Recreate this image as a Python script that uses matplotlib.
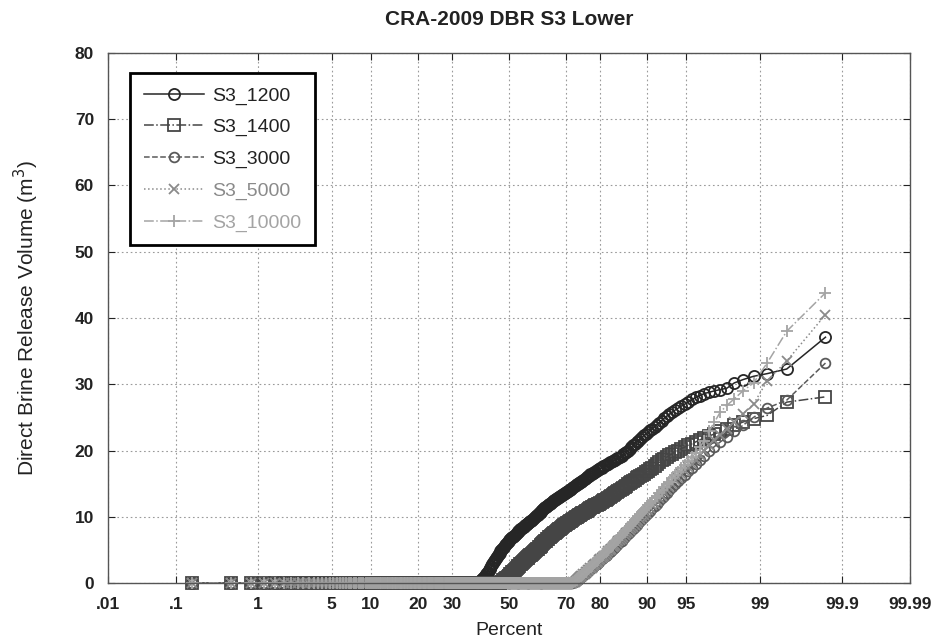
import numpy as np
import matplotlib
matplotlib.use("Agg")
import matplotlib.pyplot as plt
from statistics import NormalDist

# ---------------- data ----------------
n_vectors = 300
series_names = ["S3_1200", "S3_1400", "S3_3000", "S3_5000", "S3_10000"]

# number of zero-release vectors per scenario
zeros_1200 = 116
zeros_1400 = 141
zeros_3000 = 217
zeros_5000 = 217
zeros_10000 = 217

# sorted non-zero release volumes (m^3)
vals_1200 = [0.1, 0.2, 0.3, 0.4,
             0.6, 0.8, 0.9, 1.1, 1.3, 1.5, 1.7, 1.9, 2.1, 2.3,
             2.5, 2.8, 3.0, 3.3, 3.5, 3.7, 3.9, 4.2, 4.4, 4.6,
             4.8, 5.0, 5.1, 5.3, 5.5, 5.7, 5.9, 6.0, 6.2, 6.4,
             6.5, 6.6, 6.8, 6.9, 7.0, 7.1, 7.3, 7.4, 7.6, 7.7,
             7.8, 7.9, 8.1, 8.2, 8.3, 8.4, 8.5, 8.7, 8.8, 8.9,
             9.0, 9.1, 9.2, 9.3, 9.4, 9.5, 9.7, 9.8, 10.0, 10.1,
             10.2, 10.3, 10.5, 10.6, 10.7, 10.8, 11.0, 11.1, 11.3, 11.4,
             11.5, 11.6, 11.8, 11.9, 12.0, 12.1, 12.2, 12.4, 12.5, 12.6,
             12.7, 12.8, 12.9, 13.0, 13.1, 13.2, 13.3, 13.4, 13.5, 13.6,
             13.7, 13.8, 13.9, 14.0, 14.1, 14.2, 14.4, 14.5, 14.7, 14.8,
             14.9, 15.0, 15.1, 15.2, 15.3, 15.4, 15.6, 15.7, 15.9, 16.0,
             16.1, 16.2, 16.4, 16.5, 16.6, 16.7, 16.8, 17.0, 17.1, 17.2,
             17.3, 17.4, 17.6, 17.7, 17.8, 17.9, 18.0, 18.2, 18.3, 18.4,
             18.5, 18.6, 18.8, 18.9, 19.0, 19.2, 19.4, 19.6, 19.8, 20.0,
             20.3, 20.5, 20.8, 21.0, 21.3, 21.5, 21.8, 22.0, 22.3, 22.5,
             22.8, 23.1, 23.3, 23.6, 23.9, 24.2, 24.5, 24.9, 25.2, 25.5,
             25.8, 26.1, 26.4, 26.7, 27.0, 27.3, 27.7, 28.0, 28.3, 28.6,
             28.8, 29.0, 29.2, 29.4, 30.2, 30.7, 31.2, 31.6, 32.3, 37.1]

vals_1400 = [0.1, 0.2, 0.4, 0.5,
             0.6, 0.7, 0.8, 0.9, 1.0, 1.1, 1.3, 1.4, 1.6, 1.7,
             1.8, 2.0, 2.1, 2.3, 2.4, 2.5, 2.6, 2.8, 2.9, 3.0,
             3.1, 3.3, 3.4, 3.6, 3.7, 3.8, 3.9, 4.1, 4.2, 4.3,
             4.4, 4.6, 4.7, 4.9, 5.0, 5.1, 5.2, 5.4, 5.5, 5.6,
             5.7, 5.9, 6.0, 6.2, 6.3, 6.4, 6.6, 6.7, 6.9, 7.0,
             7.1, 7.2, 7.4, 7.5, 7.6, 7.7, 7.8, 8.0, 8.1, 8.2,
             8.3, 8.4, 8.6, 8.7, 8.8, 8.9, 9.0, 9.1, 9.2, 9.3,
             9.4, 9.5, 9.7, 9.8, 9.9, 10.0, 10.1, 10.2, 10.3, 10.4,
             10.5, 10.6, 10.7, 10.8, 10.9, 11.0, 11.1, 11.3, 11.4, 11.5,
             11.6, 11.7, 11.8, 11.9, 12.0, 12.1, 12.2, 12.4, 12.5, 12.6,
             12.7, 12.9, 13.0, 13.2, 13.3, 13.4, 13.6, 13.7, 13.9, 14.0,
             14.2, 14.4, 14.5, 14.7, 14.9, 15.1, 15.2, 15.4, 15.6, 15.8,
             16.0, 16.1, 16.3, 16.5, 16.7, 16.9, 17.2, 17.4, 17.7, 17.9,
             18.2, 18.5, 18.7, 19.0, 19.3, 19.5, 19.8, 20.0, 20.3, 20.5,
             20.8, 21.0, 21.3, 21.6, 21.9, 22.2, 22.5, 22.9, 23.3,
             23.8, 24.3, 24.8, 25.3, 27.3, 28.1]

vals_3000 = [0.1, 0.2, 0.3,
             0.4, 0.5, 0.6, 0.8, 0.9, 1.0, 1.2, 1.3, 1.5, 1.6,
             1.8, 1.9, 2.1, 2.2, 2.4, 2.5, 2.7, 2.9, 3.0, 3.2,
             3.4, 3.6, 3.7, 3.9, 4.1, 4.3, 4.5, 4.7, 4.9, 5.1,
             5.3, 5.5, 5.8, 6.0, 6.2, 6.4, 6.7, 6.9, 7.2, 7.4,
             7.7, 8.0, 8.2, 8.5, 8.8, 9.1, 9.3, 9.6, 9.9, 10.2,
             10.6, 10.9, 11.3, 11.6, 12.0, 12.4, 12.8, 13.2, 13.6, 14.0,
             14.5, 14.9, 15.4, 15.8, 16.3, 16.9, 17.4, 18.0, 18.6, 19.2,
             19.9, 20.6, 21.3, 22.0, 22.9, 23.8, 25.0, 26.4, 27.6, 33.2]

vals_5000 = [0.1, 0.2, 0.3,
             0.4, 0.6, 0.7, 0.9, 1.0, 1.1, 1.3, 1.4, 1.6, 1.7,
             1.9, 2.0, 2.2, 2.3, 2.5, 2.7, 2.9, 3.0, 3.2, 3.4,
             3.6, 3.8, 3.9, 4.1, 4.3, 4.5, 4.8, 5.0, 5.2, 5.4,
             5.6, 5.8, 6.1, 6.3, 6.5, 6.7, 7.0, 7.2, 7.5, 7.7,
             8.0, 8.3, 8.5, 8.8, 9.1, 9.4, 9.7, 10.0, 10.3, 10.6,
             11.0, 11.3, 11.7, 12.0, 12.4, 12.8, 13.2, 13.7, 14.1, 14.5,
             15.0, 15.5, 15.9, 16.4, 16.9, 17.5, 18.0, 18.6, 19.3, 20.0,
             20.8, 21.6, 22.4, 23.2, 24.3, 25.5, 27.0, 30.5, 33.5, 40.5]

vals_10000 = [0.1, 0.3, 0.4,
              0.5, 0.7, 0.8, 1.0, 1.1, 1.3, 1.4, 1.6, 1.7, 1.9,
              2.1, 2.2, 2.4, 2.6, 2.8, 3.0, 3.1, 3.3, 3.5, 3.7,
              3.9, 4.1, 4.3, 4.5, 4.7, 4.9, 5.1, 5.4, 5.6, 5.8,
              6.0, 6.3, 6.5, 6.8, 7.0, 7.3, 7.5, 7.8, 8.0, 8.3,
              8.6, 8.9, 9.2, 9.5, 9.8, 10.1, 10.4, 10.7, 11.0, 11.3,
              11.7, 12.1, 12.4, 12.8, 13.2, 13.6, 14.0, 14.5, 14.9, 15.3,
              15.8, 16.3, 16.8, 17.3, 17.8, 18.4, 19.0, 19.6, 20.5, 21.5,
              23.0, 24.3, 25.8, 26.8, 27.8, 29.0, 30.2, 33.2, 38.0, 43.8]

x_ticks = [0.01, 0.1, 1, 5, 10, 20, 30, 50, 70, 80, 90, 95, 99, 99.9, 99.99]
x_tick_labels = [".01", ".1", "1", "5", "10", "20", "30", "50", "70", "80",
                 "90", "95", "99", "99.9", "99.99"]
y_ticks = [0, 10, 20, 30, 40, 50, 60, 70, 80]

# ---------------- style ----------------
colors = ["#262626", "#454545", "#5a5a5a", "#8a8a8a", "#a4a4a4"]
markers = ["o", "s", "o", "x", "+"]
linestyles = ["-", "-.", "--", ":", "-."]
msizes = [8, 8, 7, 7.5, 8.5]

plt.rcParams["font.family"] = ["Liberation Sans", "DejaVu Sans"]

_nd = NormalDist()
_ppf = np.vectorize(lambda q: _nd.inv_cdf(q), otypes=[float])
_cdf = np.vectorize(lambda z: _nd.cdf(z), otypes=[float])


def fwd(p):
    q = np.clip(np.asarray(p, dtype=float) / 100.0, 1e-12, 1 - 1e-12)
    return _ppf(q)


def inv(z):
    return _cdf(np.asarray(z, dtype=float)) * 100.0


fig = plt.figure(figsize=(9.43, 6.43), dpi=100)
ax = fig.add_axes([0.1145, 0.0933, 0.8505, 0.8243])
ax.set_xscale("function", functions=(fwd, inv))

zero_counts = [zeros_1200, zeros_1400, zeros_3000, zeros_5000, zeros_10000]
value_lists = [vals_1200, vals_1400, vals_3000, vals_5000, vals_10000]
ranks = np.arange(1, n_vectors + 1)
percent = (ranks - 0.5) / n_vectors * 100.0

for name, nz, vals, c, m, ls, ms in zip(series_names, zero_counts, value_lists,
                                        colors, markers, linestyles, msizes):
    y = np.concatenate([np.zeros(nz), np.asarray(vals, dtype=float)])
    ax.plot(percent, y, color=c, marker=m, linestyle=ls, linewidth=1.1,
            markersize=ms, markerfacecolor="none", markeredgewidth=1.3,
            label=name, clip_on=False)

ax.set_xlim(0.01, 99.99)
ax.set_ylim(0, 80)
ax.set_xticks(x_ticks)
ax.set_xticklabels(x_tick_labels)
ax.set_yticks(y_ticks)
ax.minorticks_off()
ax.grid(True, linestyle=(0, (1.5, 2.5)), color="#9a9a9a", linewidth=0.8)
ax.tick_params(direction="in", length=5, top=True, right=True,
               labelsize=12.5, colors="#222222", pad=10)
for lab in ax.get_xticklabels() + ax.get_yticklabels():
    lab.set_fontweight("bold")
for sp in ax.spines.values():
    sp.set_color("#555555")
    sp.set_linewidth(1.0)

ax.set_title("CRA-2009 DBR S3 Lower", fontsize=15, fontweight="bold",
             pad=20, color="#222222")
ax.set_xlabel("Percent", fontsize=14, labelpad=7, color="#222222")
ax.set_ylabel("Direct Brine Release Volume (m$^3$)", fontsize=15,
              labelpad=24, color="#222222")

leg = ax.legend(loc="upper left", bbox_to_anchor=(0.0274, 0.962),
                borderaxespad=0, fancybox=False, framealpha=1,
                edgecolor="black", fontsize=14, handlelength=3.1,
                handletextpad=0.45, labelspacing=0.72, borderpad=0.7)
leg.get_frame().set_linewidth(2.0)
for txt, c in zip(leg.get_texts(), colors):
    txt.set_color(c if c not in colors[:3] else "#222222")

fig.savefig("out.png", dpi=100)
